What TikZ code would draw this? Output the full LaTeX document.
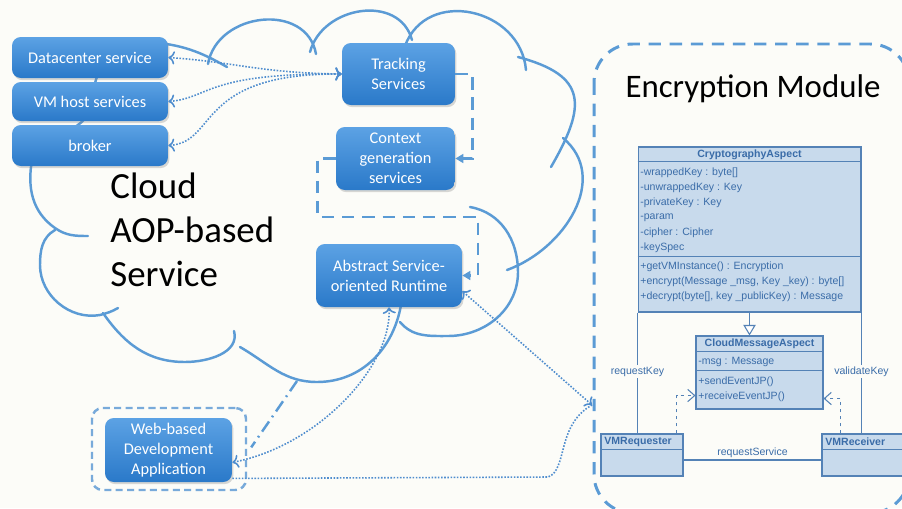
\documentclass[tikz,border=0pt]{standalone}
\usepackage{fontspec}
\setmainfont{Carlito}
\newfontfamily\umlfont{Liberation Sans}
\usetikzlibrary{arrows.meta,shadows,calc}

\definecolor{bgcol}{RGB}{252,252,248}
\definecolor{cloudblue}{RGB}{91,155,213}
\definecolor{boxtop}{RGB}{92,162,228}
\definecolor{boxbot}{RGB}{42,121,201}
\definecolor{dotblue}{RGB}{79,141,206}
\definecolor{umlfill}{RGB}{200,218,236}
\definecolor{umlline}{RGB}{84,130,182}
\definecolor{umltext}{RGB}{58,108,168}
\definecolor{framecol}{RGB}{120,170,218}

\tikzset{
  svc/.style={rounded corners=5pt, top color=boxtop, bottom color=boxbot, draw=none,
    text=white, align=center, inner sep=0pt, font=\fontsize{9.3}{11.3}\selectfont,
    drop shadow={opacity=0.3, shadow xshift=0.8pt, shadow yshift=-1.2pt}},
  cloudline/.style={draw=cloudblue, line width=1.4pt},
  dotlink/.style={draw=dotblue, line width=0.9pt, dash pattern=on 0.9pt off 0.9pt,
    arrows={-Latex[length=4pt,width=4pt]}},
  flow/.style={draw=cloudblue, line width=1.4pt, dash pattern=on 7pt off 4.5pt,
    -{Triangle[length=4.5pt,width=5pt]}},
  umlbox/.style={draw=umlline, fill=umlfill, line width=0.6pt, inner sep=0pt},
  umlhead/.style={text=umltext, font=\umlfont\bfseries\fontsize{6}{7}\selectfont, inner sep=0pt},
  umltxt/.style={text=umltext, font=\umlfont\fontsize{6}{7}\selectfont, inner sep=0pt, anchor=west},
  umllink/.style={draw=umlline, line width=0.6pt},
  umllabel/.style={text=umltext, font=\umlfont\fontsize{6}{7}\selectfont, fill=bgcol, inner sep=1pt},
  umldep/.style={draw=umlline, line width=0.6pt, dash pattern=on 2pt off 2pt,
    -{Straight Barb[length=4pt,width=7pt]}}
}

\begin{document}
\begin{tikzpicture}[x=0.02cm, y=0.02cm]
\useasboundingbox (0,0) rectangle (902,-508);
\fill[bgcol] (0,0) rectangle (902,-508);

% cloud outline
\draw[cloudline, line cap=round]
  (32,-160) .. controls (45,-135) and (93,-130) .. (93,-100)
            .. controls (93,-70) and (110,-45) .. (150,-42) to[out=-5,in=150] (227,-67)
  (208,-64) to[out=80,in=100,looseness=1.25] (316,-54)
  (310,-52) to[out=75,in=105,looseness=1.2] (412,-40)
  (405,-46) to[out=70,in=95,looseness=1.3] (526,-70)
  (518,-57) to[out=-15,in=60,looseness=1.6] (551,-167)
  (563,-138) to[out=-40,in=20,looseness=1.1] (507,-270)
  (470,-207) to[out=-10,in=90] (518,-272) to[out=-90,in=0] (448,-336) to[out=180,in=-50] (400,-322)
  (401,-305) to[out=-100,in=0] (317,-382) to[out=180,in=-30] (240,-347)
  (103,-313) to[out=-55,in=180] (185,-362) to[out=0,in=-75] (234,-331)
  (55,-230) to[out=210,in=90] (40,-265) to[out=-90,in=190] (100,-315) to[out=15,in=-150] (118,-308)
  (32,-160) to[out=-100,in=145] (55,-228) to[out=-35,in=180] (88,-236);

\node[anchor=north west, align=left, inner sep=0pt, font=\fontsize{21}{25}\selectfont]
  (cloudtitle) at (110,-173) {Cloud\\AOP-based\\Service};

% encryption module frame
\draw[draw=cloudblue, line width=1.7pt, dash pattern=on 7pt off 5pt, rounded corners=22pt]
  (594,-44) rectangle (909,-513);
\node[font=\fontsize{18.7}{22}\selectfont] (enctitle) at (753,-89) {Encryption Module};
\coordinate (encin) at (592,-405);

% service boxes
\node[svc, minimum width=3.12cm, minimum height=0.82cm] (dc)  at (90,-57.5)  {Datacenter service};
\node[svc, minimum width=3.12cm, minimum height=0.78cm] (vm)  at (90,-101.5) {VM host services};
\node[svc, minimum width=3.12cm, minimum height=0.82cm] (brk) at (90,-145.5) {broker};
\node[svc, minimum width=2.26cm, minimum height=1.24cm] (trk) at (398.5,-74) {Tracking\\Services};
\node[svc, minimum width=2.38cm, minimum height=1.26cm] (ctx) at (395.5,-158.5) {Context\\generation\\services};
\node[svc, minimum width=2.92cm, minimum height=1.26cm] (asr) at (389,-275.5) {Abstract Service-\\oriented Runtime};
\node[draw=framecol, line width=1.4pt, dash pattern=on 4pt off 2.5pt, rounded corners=6pt,
  minimum width=3.08cm, minimum height=1.64cm] (webframe) at (169,-449) {};
\node[svc, minimum width=2.54cm, minimum height=1.28cm] (web) at (168.5,-450) {Web-based\\Development\\Application};

% links between services
\draw[dotlink, <->] (dc.east) .. controls (235,-62) and (260,-73) .. (trk.west);
\draw[dotlink, <->] (vm.east) .. controls (210,-98) and (205,-73) .. (trk.west);
\draw[dotlink, <->] (brk.east) .. controls (218,-142) and (195,-73) .. (trk.west);
\draw[flow] (trk.east) -- ++(17,0) |- (ctx.east);
\coordinate (bend) at (478,-217);
\draw[flow] (ctx.west) -- ++(-18,0) |- (bend) |- (asr.east);
\coordinate (cloudtail) at (297,-381);
\draw[draw=cloudblue, line width=1.4pt, dash pattern=on 7pt off 3pt on 1pt off 3pt, shorten >=4pt]
  (cloudtail) -- (webframe.-3);
\draw[dotlink, <->] (web.-11) .. controls (320,-445) and (392,-365) .. (asr.south);
\draw[dotlink, <->] (asr.-12) -- (encin);
\draw[dotlink, -] (web.-24) -- (548,-477) .. controls (568,-470) and (556,-425) .. (encin);

% CryptographyAspect
\node[umlbox, minimum width=4.46cm, minimum height=3.3cm] (crypto) at (749.5,-229.5) {};
\draw[umllink] ($(crypto.north west)+(0,-15)$) -- ($(crypto.north east)+(0,-15)$);
\draw[umllink] ($(crypto.north west)+(0,-110)$) -- ($(crypto.north east)+(0,-110)$);
\node[umlhead] (cryptoname) at (749.5,-155) {CryptographyAspect};
\foreach \txt [count=\i] in {{-wrappedKey : byte[]}, {-unwrappedKey : Key}, {-privateKey : Key},
    {-param}, {-cipher : Cipher}, {-keySpec}}
  \node[umltxt] (cattr\i) at (640,{-158-15*\i}) {\txt};
\foreach \txt [count=\i] in {{+getVMInstance() : Encryption}, {+encrypt(Message \_msg, Key \_key) : byte[]},
    {+decrypt(byte[], key \_publicKey) : Message}}
  \node[umltxt] (cop\i) at (640,{-252-15*\i}) {\txt};

% CloudMessageAspect
\node[umlbox, minimum width=2.54cm, minimum height=1.46cm] (cma) at (759.5,-372.5) {};
\draw[umllink] ($(cma.north west)+(0,-16)$) -- ($(cma.north east)+(0,-16)$);
\draw[umllink] ($(cma.north west)+(0,-35)$) -- ($(cma.north east)+(0,-35)$);
\node[umlhead] (cmaname) at (759.5,-344) {CloudMessageAspect};
\node[umltxt] (cmattr) at (698,-362) {-msg : Message};
\node[umltxt] (cmop1) at (698,-382) {+sendEventJP()};
\node[umltxt] (cmop2) at (698,-397) {+receiveEventJP()};

% VMRequester / VMReceiver
\node[umlbox, minimum width=1.64cm, minimum height=0.84cm] (vmreq) at (642,-455) {};
\draw[umllink] ($(vmreq.north west)+(0,-16)$) -- ($(vmreq.north east)+(0,-16)$);
\node[umlhead, anchor=west] (vmreqname) at (604,-442) {VMRequester};
\node[umlbox, minimum width=1.66cm, minimum height=0.84cm] (vmrec) at (863.5,-455) {};
\draw[umllink] ($(vmrec.north west)+(0,-16)$) -- ($(vmrec.north east)+(0,-16)$);
\node[umlhead, anchor=west] (vmrecname) at (825,-442) {VMReceiver};

% relations
\draw[umllink, -{Triangle[length=6pt,width=7pt,fill=white]}] (crypto.south) -- (crypto.south |- cma.north);
\draw[umllink] (crypto.south west) -- (crypto.south west |- vmreq.north)
  node[umllabel, pos=0.49] (reqkey) {requestKey};
\draw[umllink] (crypto.south east) -- (crypto.south east |- vmrec.north)
  node[umllabel, pos=0.49] (valkey) {validateKey};
\draw[umllink] ($(vmreq.east)+(0,-5)$) -- ($(vmrec.west)+(0,-5)$)
  node[midway, above=1pt, text=umltext, font=\umlfont\fontsize{6}{7}\selectfont, inner sep=0pt] (reqsvc) {requestService};
\draw[umldep] ($(vmreq.north east)+(-7,0)$) |- ($(cma.south west)+(0,14)$);
\draw[umldep] ($(vmrec.north west)+(19,0)$) |- ($(cma.south east)+(0,11)$);
\end{tikzpicture}
\end{document}
